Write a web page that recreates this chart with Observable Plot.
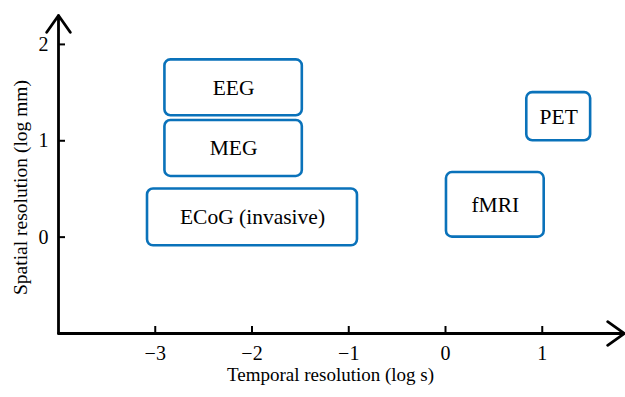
<!DOCTYPE html>
<html>
<head>
<meta charset="utf-8">
<script src="https://cdn.jsdelivr.net/npm/d3@7"></script>
<script src="https://cdn.jsdelivr.net/npm/@observablehq/plot@0.6"></script>
<style>
  html, body { margin: 0; padding: 0; background: #fff; }
  #chart svg { display: block; }
</style>
</head>
<body>
<div id="chart"></div>
<script>
// Modalities with their extent in log temporal (s) and log spatial (mm) resolution
const modalities = ["EEG", "MEG", "ECoG (invasive)", "PET", "fMRI"];
const tMin = [-2.9, -2.9, -3.08, 0.84, 0.01];
const tMax = [-1.48, -1.48, -0.91, 1.5, 1.02];
const sMin = [1.26, 0.63, -0.09, 1.0, 0.0];
const sMax = [1.84, 1.21, 0.5, 1.5, 0.67];

const xTicks = [-3, -2, -1, 0, 1];
const yTicks = [0, 1, 2];
const xDomain = [-4, 1.85];
const yDomain = [-1, 2.3];
const xLabel = "Temporal resolution (log s)";
const yLabel = "Spatial resolution (log mm)";

const boxes = modalities.map((name, i) => ({
  name, x1: tMin[i], x2: tMax[i], y1: sMin[i], y2: sMax[i]
}));

const blue = "#0a72ba";
const font = "'Liberation Serif', 'Times New Roman', serif";
const fmt = d => d3.format("d")(d).replace("-", "\u2212");

const chart = Plot.plot({
  width: 625,
  height: 397,
  marginLeft: 58,
  marginRight: 1,
  marginTop: 15,
  marginBottom: 64,
  style: { fontFamily: font, fontSize: "20px", color: "#000", background: "#fff" },
  x: { domain: xDomain },
  y: { domain: yDomain },
  marks: [
    Plot.rect(boxes, {
      x1: "x1", x2: "x2", y1: "y1", y2: "y2",
      fill: "#fff", stroke: blue, strokeWidth: 2.6, rx: 6
    }),
    Plot.text(boxes, {
      x: d => (d.x1 + d.x2) / 2,
      y: d => (d.y1 + d.y2) / 2,
      text: "name",
      fontSize: 21.5,
      fill: "#000"
    }),
    Plot.axisX({
      ticks: xTicks, tickSize: -7, tickPadding: 19, strokeWidth: 2,
      tickFormat: fmt, label: null, fontSize: 20
    }),
    Plot.axisY({
      ticks: yTicks, tickSize: -7, tickPadding: 17, strokeWidth: 2,
      tickFormat: fmt, label: null, fontSize: 20
    }),
    Plot.arrow([{}], {
      x1: xDomain[0], y1: yDomain[0], x2: xDomain[1], y2: yDomain[0],
      stroke: "#000", strokeWidth: 2.8, headLength: 11, headAngle: 70, bend: 0
    }),
    Plot.arrow([{}], {
      x1: xDomain[0], y1: yDomain[0], x2: xDomain[0], y2: yDomain[1],
      stroke: "#000", strokeWidth: 2.8, headLength: 11, headAngle: 70, bend: 0
    }),
    Plot.text([xLabel], {
      text: d => d, frameAnchor: "bottom", dx: -11, dy: 47,
      fontSize: 19, fill: "#000"
    }),
    Plot.text([yLabel], {
      text: d => d, frameAnchor: "left", textAnchor: "middle", rotate: -90,
      dx: -38, dy: 13, fontSize: 19.5, fill: "#000"
    })
  ]
});

document.getElementById("chart").appendChild(chart);
</script>
</body>
</html>
